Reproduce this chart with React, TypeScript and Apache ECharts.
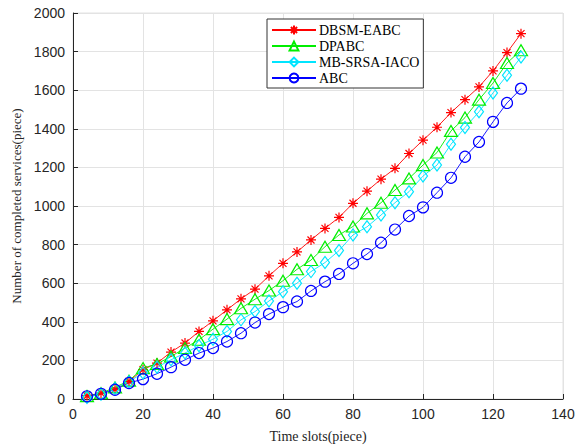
import React, { useEffect, useRef } from "react";
import * as echarts from "echarts";

const xValues = [4, 8, 12, 16, 20, 24, 28, 32, 36, 40, 44, 48, 52, 56, 60, 64, 68, 72, 76, 80, 84, 88, 92, 96, 100, 104, 108, 112, 116, 120, 124, 128];

const dbsmEabc = [17, 31, 50, 91, 152, 186, 243, 290, 350, 405, 462, 519, 569, 638, 703, 762, 824, 884, 941, 1014, 1077, 1139, 1195, 1272, 1341, 1408, 1484, 1551, 1617, 1700, 1795, 1893];
const dpabc = [15, 30, 60, 95, 160, 182, 220, 264, 307, 362, 414, 470, 517, 562, 613, 672, 720, 789, 850, 894, 962, 1017, 1083, 1143, 1212, 1277, 1389, 1458, 1551, 1637, 1741, 1807];
const mbSrsaIaco = [8, 25, 55, 90, 135, 165, 203, 238, 276, 310, 350, 410, 453, 508, 556, 600, 660, 707, 769, 850, 892, 953, 1017, 1074, 1155, 1212, 1320, 1407, 1488, 1586, 1677, 1772];
const abc = [14, 27, 48, 83, 103, 131, 165, 203, 238, 264, 298, 341, 396, 440, 476, 505, 560, 608, 648, 703, 751, 810, 878, 948, 993, 1069, 1146, 1255, 1332, 1436, 1534, 1608];

const seriesNames = ["DBSM-EABC", "DPABC", "MB-SRSA-IACO", "ABC"];

const asterisk = "path://M5,0L5,10M0,5L10,5M1.5,1.5L8.5,8.5M1.5,8.5L8.5,1.5";

export default function App() {
  const ref = useRef<HTMLDivElement>(null);
  useEffect(() => {
    if (!ref.current) return;
    const chart = echarts.init(ref.current, undefined, { renderer: "svg" });
    const pair = (ys: number[]) => xValues.map((x, i) => [x, ys[i]]);
    const mk = (name: string, ys: number[], color: string, symbol: string, size: any) => ({
      name,
      type: "line",
      data: pair(ys),
      symbol,
      symbolSize: size,
      showSymbol: true,
      lineStyle: { color, width: 0.9 },
      itemStyle: { color: "transparent", borderColor: color, borderWidth: 1.2 },
      emphasis: { disabled: true },
    });
    chart.setOption({
      animation: false,
      backgroundColor: "#ffffff",
      grid: { left: 73, right: 24, top: 13, bottom: 49, show: true, borderColor: "#e3e3e3", borderWidth: 1 },
      legend: {
        orient: "vertical",
        left: 267,
        top: 19,
        backgroundColor: "#ffffff",
        borderColor: "#333333",
        borderWidth: 1,
        padding: [4, 4, 3, 4],
        itemGap: 2,
        itemWidth: 44,
        itemHeight: 11,
        textStyle: { fontFamily: "Liberation Serif", fontSize: 14, color: "#000000", padding: [0, 0, 0, -2] },
        data: seriesNames,
      },
      xAxis: {
        type: "value",
        min: 0,
        max: 140,
        interval: 20,
        name: "Time slots(piece)",
        nameLocation: "middle",
        nameGap: 30,
        nameTextStyle: { fontFamily: "Liberation Serif", fontSize: 14, color: "#262626" },
        axisLine: { show: true, lineStyle: { color: "#262626", width: 1 } },
        axisTick: { show: true, inside: true, length: 5, lineStyle: { color: "#262626" } },
        axisLabel: { fontFamily: "Liberation Sans", fontSize: 14, color: "#262626", margin: 8, formatter: (v: number) => String(v) },
        splitLine: { show: true, lineStyle: { color: "#e3e3e3", width: 1 } },
      },
      yAxis: {
        type: "value",
        min: 0,
        max: 2000,
        interval: 200,
        name: "Number of completed services(piece)",
        nameLocation: "middle",
        nameGap: 45,
        nameTextStyle: { fontFamily: "Liberation Serif", fontSize: 13, color: "#262626" },
        axisLine: { show: true, lineStyle: { color: "#262626", width: 1 } },
        axisTick: { show: true, inside: true, length: 5, lineStyle: { color: "#262626" } },
        axisLabel: { fontFamily: "Liberation Sans", fontSize: 14, color: "#262626", margin: 8, formatter: (v: number) => String(v) },
        splitLine: { show: true, lineStyle: { color: "#e3e3e3", width: 1 } },
      },
      series: [
        mk(seriesNames[0], dbsmEabc, "#ff0000", asterisk, 10),
        mk(seriesNames[1], dpabc, "#00ee00", "triangle", [13, 11]),
        mk(seriesNames[2], mbSrsaIaco, "#00e5ff", "diamond", [9, 12]),
        mk(seriesNames[3], abc, "#0000ff", "circle", 11),
      ],
    });
    return () => chart.dispose();
  }, []);
  return <div ref={ref} style={{ width: 587, height: 448, position: "absolute", left: 0, top: 0 }} />;
}
